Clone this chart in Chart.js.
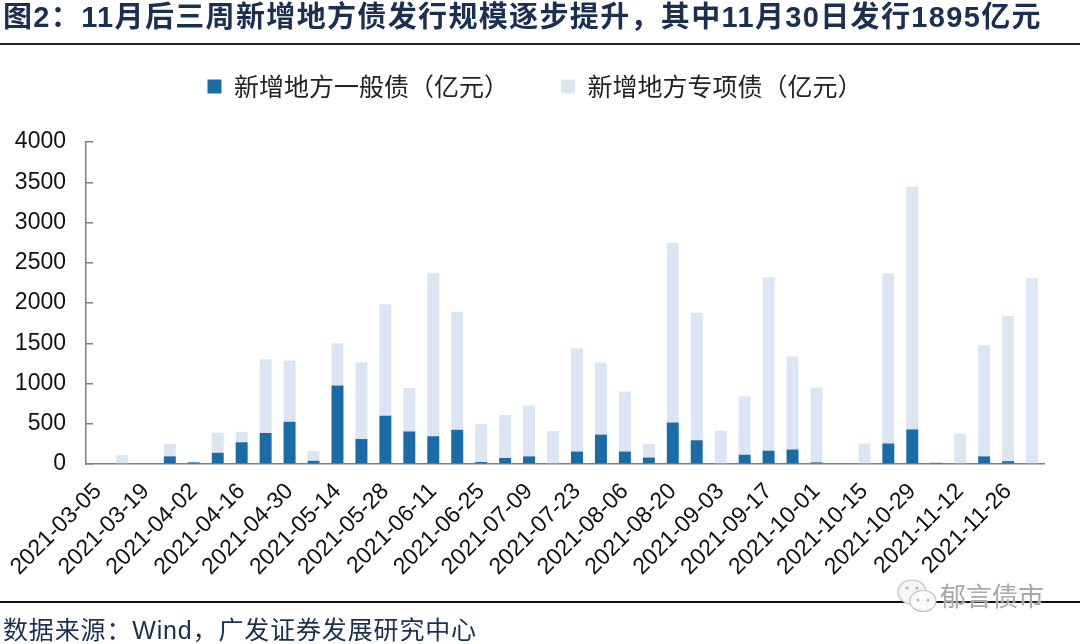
<!DOCTYPE html>
<html>
<head>
<meta charset="utf-8">
<script src="https://cdn.jsdelivr.net/npm/chart.js@4"></script>
<style>
  html, body { margin: 0; padding: 0; background: #fff; }
  #wrap { position: relative; width: 1080px; height: 644px; overflow: hidden; font-family: "Liberation Sans", "Noto Sans CJK SC", sans-serif; color: #1b2f50; }
  #chart { position: absolute; left: 0; top: 0; }
  #title { position: absolute; left: 3px; top: -1px; font-size: 29px; line-height: 36px; font-weight: 700; white-space: nowrap; letter-spacing: 1.35px; }
  #rule-top { position: absolute; left: 0; right: 0; top: 43px; height: 2px; background: #222; }
  #rule-bottom { position: absolute; left: 0; right: 0; top: 601px; height: 2px; background: #111; }
  #source { position: absolute; left: 3px; top: 615px; font-size: 25px; line-height: 30px; white-space: nowrap; letter-spacing: 0.85px; }
  #mark { position: absolute; left: 893px; top: 577px; width: 170px; height: 40px; }
  #mark span { position: absolute; left: 47px; top: 4px; font-size: 26px; line-height: 32px; color: #a8a8a8; white-space: nowrap; text-shadow: 0 0 2px #fff; }
</style>
</head>
<body>
<div id="wrap">
  <canvas id="chart" width="1080" height="644"></canvas>
  <div id="title">图2：11月后三周新增地方债发行规模逐步提升，其中11月30日发行1895亿元</div>
  <div id="rule-top"></div>
  <div id="rule-bottom"></div>
  <div id="source">数据来源：Wind，广发证券发展研究中心</div>
  <div id="mark">
    <svg width="46" height="40" viewBox="0 0 46 40">
      <ellipse cx="19" cy="15" rx="14" ry="12" fill="#f4f4f4" stroke="#c4c4c4" stroke-width="1.2"/>
      <ellipse cx="30" cy="24" rx="13" ry="10.5" fill="#fafafa" stroke="#c4c4c4" stroke-width="1.2"/>
      <circle cx="14" cy="11" r="1.5" fill="#b5b5b5"/><circle cx="24" cy="11" r="1.5" fill="#b5b5b5"/>
      <circle cx="25" cy="23" r="1.5" fill="#b5b5b5"/><circle cx="35" cy="23" r="1.5" fill="#b5b5b5"/>
    </svg>
    <span>郁言债市</span>
  </div>
</div>
<script>
const dates = [
  '2021-03-05','2021-03-12','2021-03-19','2021-03-26','2021-04-02','2021-04-09','2021-04-16','2021-04-23',
  '2021-04-30','2021-05-07','2021-05-14','2021-05-21','2021-05-28','2021-06-04','2021-06-11','2021-06-18',
  '2021-06-25','2021-07-02','2021-07-09','2021-07-16','2021-07-23','2021-07-30','2021-08-06','2021-08-13',
  '2021-08-20','2021-08-27','2021-09-03','2021-09-10','2021-09-17','2021-09-24','2021-10-01','2021-10-08',
  '2021-10-15','2021-10-22','2021-10-29','2021-11-05','2021-11-12','2021-11-19','2021-11-26','2021-12-03'
];
const generalBonds = [
  0, 0, 0, 95, 20, 140, 270, 385, 525, 40,
  975, 310, 600, 405, 345, 425, 25, 75, 95, 5,
  155, 365, 155, 80, 515, 295, 0, 115, 165, 180,
  20, 0, 8, 255, 430, 15, 0, 95, 35, 0
];
const specialBonds = [
  0, 110, 0, 155, 10, 250, 130, 915, 760, 120,
  525, 955, 1385, 540, 2025, 1465, 470, 535, 630, 405,
  1282, 897, 745, 170, 2235, 1585, 415, 725, 2155, 1155,
  930, 0, 247, 2115, 3015, 0, 380, 1380, 1805, 2310
];
const seriesNames = ['新增地方一般债（亿元）', '新增地方专项债（亿元）'];
const yMax = 4000;
const yStep = 500;

const AXIS_FONT = '"Liberation Sans", Arial, sans-serif';
const AXIS_GREY = '#7f7f7f';

// legend sits higher than the plot top and a bit right of centre
const legendBlock = {
  id: 'legendBlock',
  beforeInit: function(chart) {
    const fit = chart.legend.fit;
    chart.legend.fit = function() {
      fit.call(this);
      this.height = 120;
    };
  },
  afterLayout: function(chart) {
    chart.legend.left += 13;
    chart.legend.right += 13;
  }
};

new Chart(document.getElementById('chart'), {
  type: 'bar',
  plugins: [legendBlock],
  data: {
    labels: dates,
    datasets: [
      { label: seriesNames[0], data: generalBonds, backgroundColor: '#1a6ca8', barPercentage: 0.5, categoryPercentage: 1 },
      { label: seriesNames[1], data: specialBonds, backgroundColor: '#dce6f2', barPercentage: 0.5, categoryPercentage: 1 }
    ]
  },
  options: {
    responsive: false,
    animation: false,
    layout: { padding: { top: 22, right: 36, left: 0, bottom: 0 } },
    plugins: {
      tooltip: { enabled: false },
      legend: {
        position: 'top',
        labels: {
          font: { family: '"Noto Sans CJK SC", sans-serif', size: 25 },
          color: '#222',
          boxWidth: 14,
          boxHeight: 14,
          padding: 52
        }
      }
    },
    scales: {
      x: {
        stacked: true,
        border: { color: AXIS_GREY, width: 1.5 },
        grid: { display: false },
        afterFit: function(scale) { scale.height = 180; },
        ticks: {
          autoSkip: false,
          minRotation: 45,
          maxRotation: 45,
          padding: 6,
          color: '#111',
          font: { family: AXIS_FONT, size: 23 },
          callback: function(v, i) { return i % 2 === 0 ? dates[i] : ''; }
        }
      },
      y: {
        stacked: true,
        min: 0,
        max: yMax,
        border: { color: AXIS_GREY, width: 1.5 },
        grid: { drawOnChartArea: false, color: AXIS_GREY, lineWidth: 1.5, tickLength: -7 },
        afterFit: function(scale) { scale.width = 86; },
        ticks: {
          stepSize: yStep,
          padding: 27,
          color: '#111',
          font: { family: AXIS_FONT, size: 23 },
          callback: function(v) { return String(v); }
        }
      }
    }
  }
});
</script>
</body>
</html>
